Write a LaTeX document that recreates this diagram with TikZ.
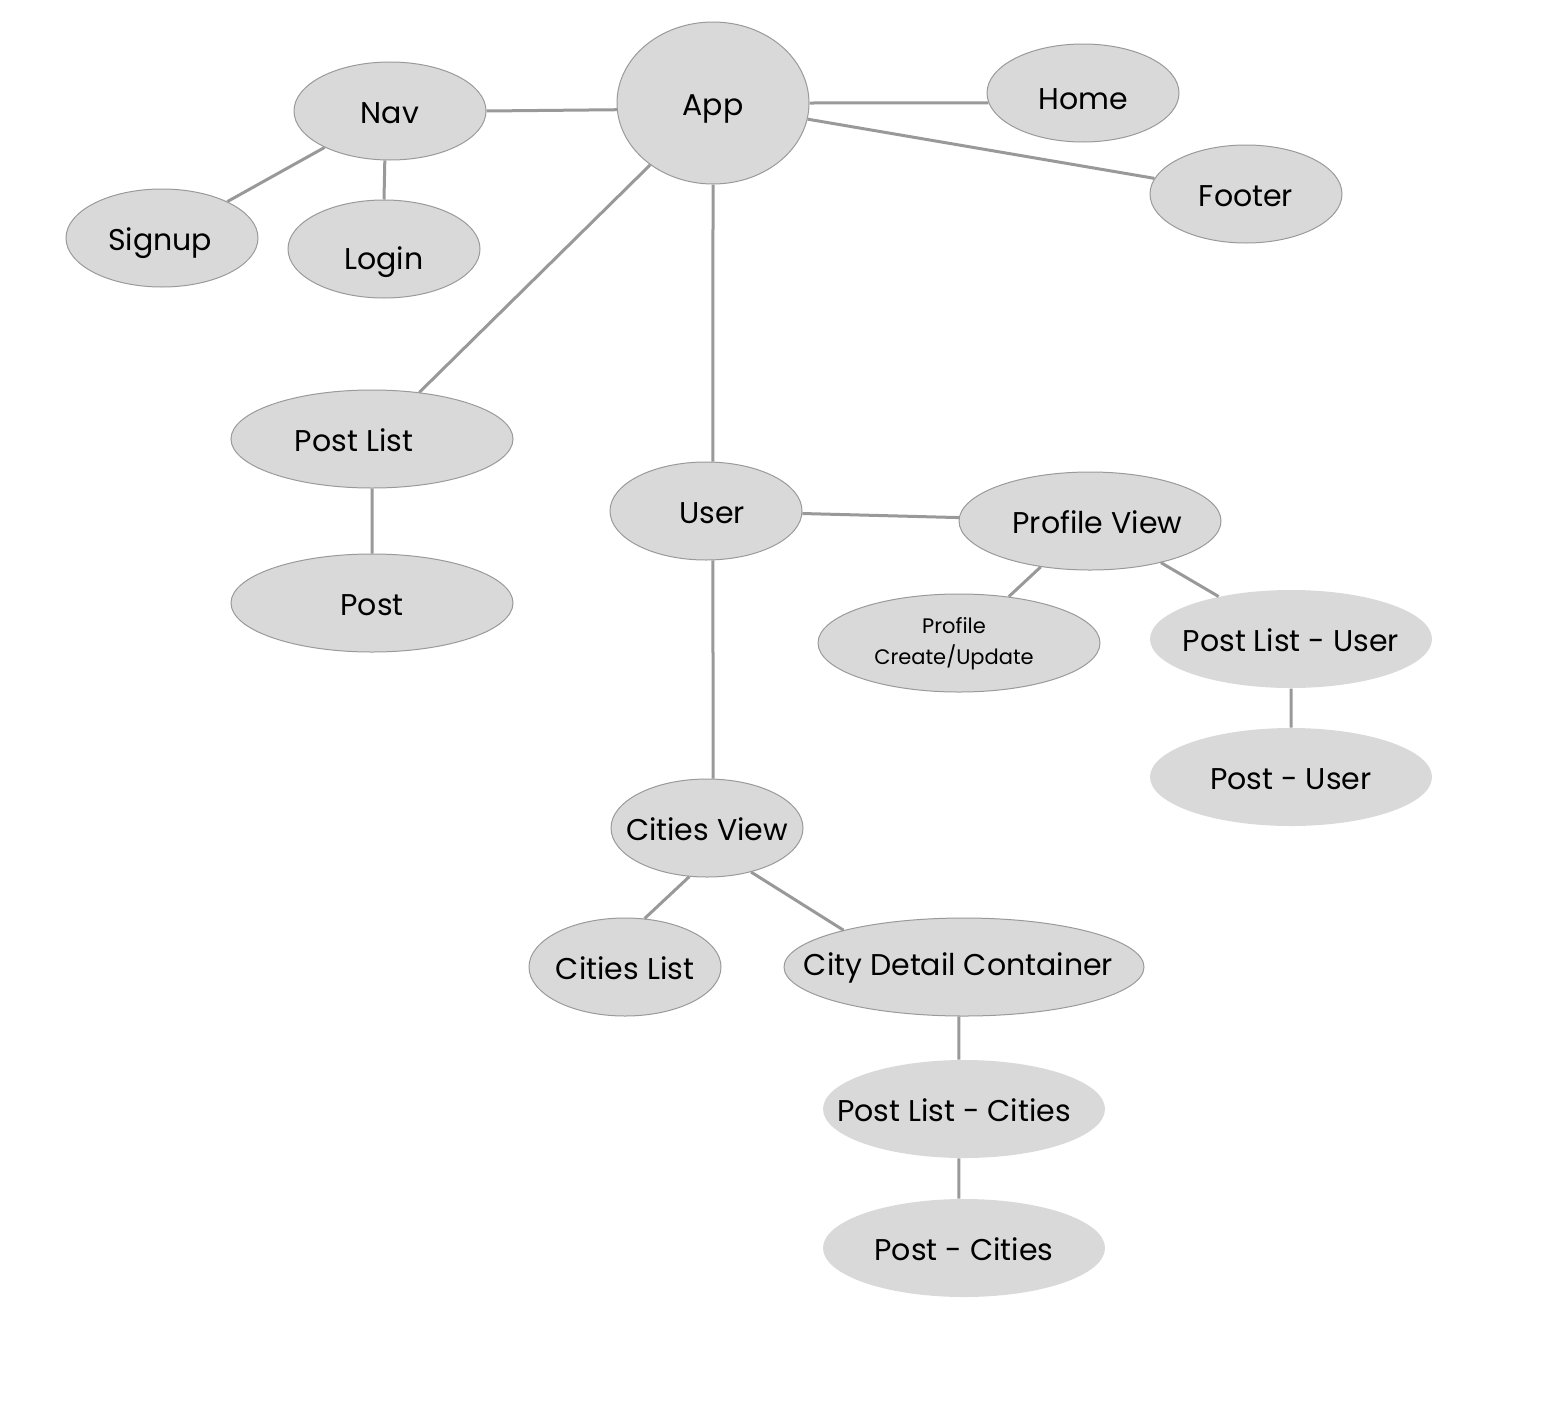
\documentclass[tikz,border=0pt]{standalone}
\usepackage{fontspec}
\setmainfont{Poppins}
\usetikzlibrary{shapes.geometric}
\definecolor{bubblefill}{HTML}{D9D9D9}
\definecolor{bubbleline}{HTML}{9A9A9A}
\definecolor{edgegray}{HTML}{999999}
\tikzset{nudge/.style 2 args={execute at begin node={\hbox to 0pt\bgroup\hss\kern#1\kern#1\lower#2\hbox\bgroup},
  execute at end node={\egroup\hss\egroup}}}
\tikzset{bubble/.style={ellipse,fill=bubblefill,draw=bubbleline,line width=0.5pt,inner sep=0pt,minimum width=96pt,minimum height=49pt,
  font=\fontsize{15}{18}\selectfont,text height=12.5pt,text depth=0pt,nudge={0pt}{0pt}}}
\tikzset{wide/.style={bubble,minimum width=141pt}}
\tikzset{plain/.style={wide,draw=none}}
\tikzset{link/.style={draw=edgegray,line width=1.5pt}}

\begin{document}
\begin{tikzpicture}[x=0.5pt,y=-0.5pt]
\useasboundingbox (0,0) rectangle (1541,1408);
\node (app) at (713,103) [bubble,minimum height=81pt] {App};
\node (nav) at (390,111) [bubble] {Nav};
\node (home) at (1083,93) [bubble,nudge={0pt}{2pt}] {Home};
\node (footer) at (1246,194) [bubble] {Footer};
\node (signup) at (162,238) [bubble,nudge={-1pt}{0pt}] {Signup};
\node (login) at (384,249) [bubble,nudge={0pt}{4pt}] {Login};
\node (postlist) at (372,439) [wide,nudge={-9pt}{0pt}] {Post List};
\node (post) at (372,603) [wide] {Post};
\node (user) at (706,511) [bubble,nudge={3pt}{0pt}] {User};
\node (profile) at (1090,521) [bubble,minimum width=131pt,nudge={3.75pt}{0pt}] {Profile View};
\node (create) at (959,643) [wide,font=\fontsize{10.5}{15.5}\selectfont,text height=,text depth=,nudge={-2.5pt}{1.5pt}] {\begin{tabular}{@{}c@{}}Profile\\Create/Update\end{tabular}};
\node (postlistuser) at (1291,639) [plain] {Post List - User};
\node (postuser) at (1291,777) [plain] {Post - User};
\node (citiesview) at (707,828) [bubble] {Cities View};
\node (citieslist) at (625,967) [bubble] {Cities List};
\node (detail) at (964,967) [bubble,minimum width=180pt,nudge={-2.75pt}{-2pt}] {City Detail Container};
\node (postlistcities) at (964,1109) [plain,nudge={-5pt}{0pt}] {Post List - Cities};
\node (postcities) at (964,1248) [plain] {Post - Cities};
\draw[link] (nav.east)--(app.184) (app.east)--(home.186) (app)--(footer);
\draw[link] (nav)--(signup) (nav.264)--(login.north);
\draw[link] (app)--(postlist) (postlist)--(post);
\draw[link] (app.south)--(user.82) (user)--(profile);
\draw[link] (profile)--(create) (profile)--(postlistuser) (postlistuser)--(postuser);
\draw[link] (user.-82)--(citiesview.83);
\draw[link] (citiesview.250)--(citieslist.68) (citiesview.-45)--(detail.163);
\draw[link] (detail.264)--(postlistcities.96) (postlistcities.264)--(postcities.96);
\end{tikzpicture}
\end{document}
